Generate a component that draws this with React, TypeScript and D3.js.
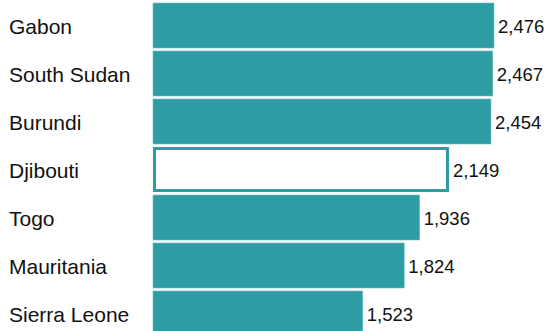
import React from "react";
import * as d3 from "d3";

const countries = ["Gabon", "South Sudan", "Burundi", "Djibouti", "Togo", "Mauritania", "Sierra Leone"];
const values = [2476, 2467, 2454, 2149, 1936, 1824, 1523];
const highlighted = ["Djibouti"];

const W = 544;
const H = 331;

export default function App() {
  const x = d3.scaleLinear().domain([0, 2476]).range([153, 494]);
  const fmt = d3.format(",");
  const bw = 45;
  return (
    <svg width={W} height={H} style={{ position: "absolute", left: 0, top: 0, display: "block" }}>
      <rect width={W} height={H} fill="#fff" />
      {countries.map((c, i) => {
        const y0 = 3 + i * 48;
        const hl = highlighted.includes(c);
        const x0 = x(0);
        const x1 = x(values[i]);
        return (
          <g key={c}>
            {hl ? (
              <rect x={x0 + 1.5} y={y0 + 1.5} width={x1 - x0 - 3} height={bw - 3} fill="#fff" stroke="#2e9ca3" strokeWidth={3} />
            ) : (
              <rect x={x0} y={y0} width={x1 - x0} height={bw} fill="#2e9ca3" stroke="#6cbfc3" strokeWidth={0.6} />
            )}
            <text x={9} y={y0 + bw / 2 + 1} dominantBaseline="central" fontFamily="Liberation Sans, Arial, sans-serif" fontSize={21} fill="#111">{c}</text>
            <text x={x1 + 4} y={y0 + bw / 2 + 1} dominantBaseline="central" fontFamily="Liberation Sans, Arial, sans-serif" fontSize={18.5} fill="#111">{fmt(values[i])}</text>
          </g>
        );
      })}
    </svg>
  );
}
